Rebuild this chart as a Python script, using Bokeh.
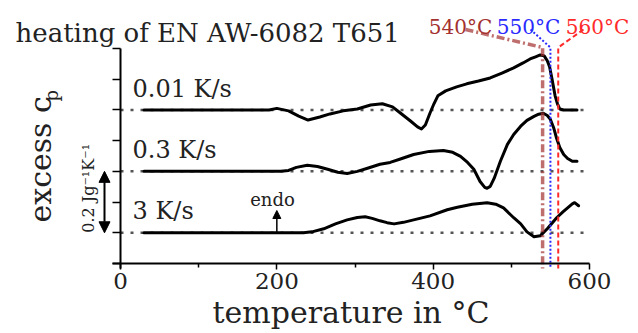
from bokeh.plotting import figure
from bokeh.models import (Range1d, FixedTicker, Label, Arrow, NormalHead,
                          CustomJSTickFormatter)
from bokeh.embed import file_html
from bokeh.resources import INLINE

# ---------------- data ----------------
rates = ["0.01 K/s", "0.3 K/s", "3 K/s"]
baselines = [0.5, 0.3, 0.1]          # vertical offset of each curve (J g^-1 K^-1)

t_001 = [30, 100, 190, 200, 215, 228, 240, 255, 268, 285, 303, 320, 335, 348, 358,
         371, 380, 385, 390, 396, 401, 406, 416, 430, 443, 458, 473, 488, 503, 515,
         524, 531, 537, 542, 546, 549, 552, 556, 559, 562, 567, 584]
cp_001 = [0.0, 0.0, 0.0, 0.005, -0.003, -0.020, -0.033, -0.023, -0.013, -0.003, 0.003,
          0.016, 0.020, 0.010, -0.010, -0.036, -0.055, -0.062, -0.049, -0.010, 0.020,
          0.046, 0.062, 0.075, 0.085, 0.094, 0.104, 0.120, 0.137, 0.153, 0.166, 0.173,
          0.179, 0.176, 0.160, 0.140, 0.101, 0.046, 0.020, 0.003, 0.0, 0.0]

t_03 = [30, 205, 215, 225, 239, 252, 265, 278, 290, 303, 316, 332, 345, 360, 375, 395,
        413, 425, 435, 444, 452, 460, 466, 469, 473, 478, 486, 495, 503, 512, 520, 529,
        535, 541, 546, 550, 554, 558, 562, 567, 572, 578, 584]
cp_03 = [0.0, 0.0, 0.003, 0.013, 0.020, 0.016, 0.007, -0.003, -0.007, 0.0, 0.010, 0.023,
         0.029, 0.042, 0.055, 0.065, 0.068, 0.062, 0.049, 0.029, 0.007, -0.033, -0.052,
         -0.055, -0.049, -0.023, 0.033, 0.088, 0.120, 0.147, 0.166, 0.179, 0.186, 0.189,
         0.182, 0.169, 0.143, 0.107, 0.078, 0.055, 0.042, 0.033, 0.033]

t_3 = [30, 234, 245, 260, 275, 290, 303, 313, 322, 332, 341, 350, 362, 375, 396, 418,
       431, 450, 469, 480, 490, 503, 512, 520, 529, 537, 546, 558, 566, 572, 578, 581, 586]
cp_3 = [0.0, 0.0, 0.003, 0.013, 0.029, 0.042, 0.050, 0.052, 0.047, 0.039, 0.033, 0.029,
        0.034, 0.042, 0.055, 0.075, 0.083, 0.093, 0.098, 0.093, 0.081, 0.049, 0.029,
        0.003, -0.013, -0.010, 0.013, 0.049, 0.068, 0.081, 0.094, 0.098, 0.088]

series_t = [t_001, t_03, t_3]
series_cp = [cp_001, cp_03, cp_3]

x_ticks = [0, 200, 400, 600]
x_minor = [100, 300, 500]
y_ticks = [0.0, 0.1, 0.2, 0.3, 0.4, 0.5, 0.6, 0.7]

marker_temps = [540, 550, 560]
marker_labels = ["540°C", "550°C", "560°C"]
marker_colors = ["#a3302f", "#2a2aff", "#ff2a2a"]

endo_temp = 200
scale_bar = 0.2

# ---------------- layout helpers (picture pixels -> data) ----------------
W, H = 638, 333
SX = 469 / 600.0      # px per degC
SY = 215 / 0.7        # px per J/gK
X0, Y0 = 120, 263     # picture px of the origin


def X(px):
    return (px - X0) / SX


def Y(py):
    return (Y0 - py) / SY


FONT = "DejaVu Serif"
INK = "#222222"

p = figure(width=W, height=H,
           x_range=Range1d(X(0), X(W)), y_range=Range1d(Y(H), Y(0)),
           output_backend="svg", toolbar_location=None, min_border=0)
p.outline_line_color = None
p.grid.visible = False
p.background_fill_color = "white"

# x axis
xa = p.xaxis[0]
xa.fixed_location = 0
xa.bounds = (X(112), x_ticks[-1])
xa.ticker = FixedTicker(ticks=x_ticks, minor_ticks=x_minor)
xa.axis_line_width = 2
xa.axis_line_color = "black"
xa.major_tick_out = 6
xa.major_tick_in = 0
xa.minor_tick_out = 4
xa.minor_tick_in = 0
xa.major_tick_line_width = 1.5
xa.minor_tick_line_width = 1.5
xa.major_tick_line_color = "black"
xa.minor_tick_line_color = "black"
xa.major_label_text_font = FONT
xa.major_label_text_font_size = "23px"
xa.major_label_text_color = INK
xa.major_label_standoff = 3
xa.axis_label = "temperature in °C"
xa.axis_label_text_font = FONT
xa.axis_label_text_font_size = "30px"
xa.axis_label_text_font_style = "normal"
xa.axis_label_text_color = INK
xa.axis_label_standoff = 3

# y axis (no labels)
ya = p.yaxis[0]
ya.fixed_location = 0
ya.bounds = (Y(268), y_ticks[-1])
ya.ticker = FixedTicker(ticks=y_ticks, minor_ticks=[])
ya.formatter = CustomJSTickFormatter(code="return ''")
ya.axis_line_width = 2
ya.axis_line_color = "black"
ya.major_tick_out = 8
ya.major_tick_in = 0
ya.major_tick_line_width = 1.5
ya.major_tick_line_color = "black"
ya.minor_tick_line_color = None

# dotted baselines
for b in baselines:
    p.line([x_ticks[0], x_ticks[-1]], [b, b], line_color="#555555", line_width=2.5,
           line_dash="3 7")

# curves
for t, cp, b in zip(series_t, series_cp, baselines):
    p.line(t, [b + v for v in cp], line_color="black", line_width=3,
           line_join="round", line_cap="round")

# marker lines with leaders
leader_px = [465, 530, 583]
label_px = [460, 528, 597]
dashes = ["8 3 2 3", "2 2", "5 3"]
widths = [3.5, 2, 2]
alphas = [0.7, 1.0, 1.0]
for T, lab, col, lx, cx, d, w, a in zip(marker_temps, marker_labels, marker_colors,
                                        leader_px, label_px, dashes, widths, alphas):
    p.line([X(lx), T, T], [Y(29), Y(47), Y(268)], line_color=col, line_width=w,
           line_dash=d, line_alpha=a)
    p.add_layout(Label(x=X(cx), y=Y(26), text=lab, text_font=FONT,
                       text_font_size="20px", text_color=col, text_align="center",
                       text_baseline="alphabetic"))

# title
p.add_layout(Label(x=X(15), y=Y(32), text="heating of EN AW-6082 T651", text_font=FONT,
                   text_font_size="26px", text_color=INK,
                   text_baseline="alphabetic"))

# rate labels
for r, b in zip(rates, baselines):
    p.add_layout(Label(x=X(132), y=b + Y(88) - baselines[0], text=r, text_font=FONT,
                       text_font_size="24px", text_color=INK,
                       text_baseline="alphabetic"))

# y axis label
p.add_layout(Label(x=X(40), y=Y(222), text="excess c", text_font=FONT,
                   text_font_size="30px", text_color=INK, angle=90,
                   angle_units="deg", text_baseline="alphabetic"))
p.add_layout(Label(x=X(51), y=Y(101), text="p", text_font=FONT,
                   text_font_size="18px", text_color=INK, angle=90,
                   angle_units="deg", text_baseline="alphabetic"))

# scale bar
p.add_layout(Arrow(start=NormalHead(size=11, fill_color="black", line_color="black"),
                   end=NormalHead(size=11, fill_color="black", line_color="black"),
                   x_start=X(104), y_start=baselines[2], x_end=X(104),
                   y_end=baselines[2] + scale_bar, line_width=2, line_color="black"))
p.add_layout(Label(x=X(88), y=baselines[2], text="0.2 Jg⁻¹K⁻¹", text_font=FONT,
                   text_font_size="16px", text_color=INK, angle=90,
                   angle_units="deg", text_baseline="alphabetic"))

# endo arrow
p.add_layout(Arrow(end=NormalHead(size=8, fill_color="black", line_color="black"),
                   x_start=endo_temp, y_start=baselines[2], x_end=endo_temp,
                   y_end=Y(210), line_width=1.5, line_color="black"))
p.add_layout(Label(x=X(272), y=Y(199), text="endo", text_font=FONT,
                   text_font_size="18px", text_color=INK, text_align="center",
                   text_baseline="alphabetic"))

open("out.html", "w").write(file_html(p, INLINE))
